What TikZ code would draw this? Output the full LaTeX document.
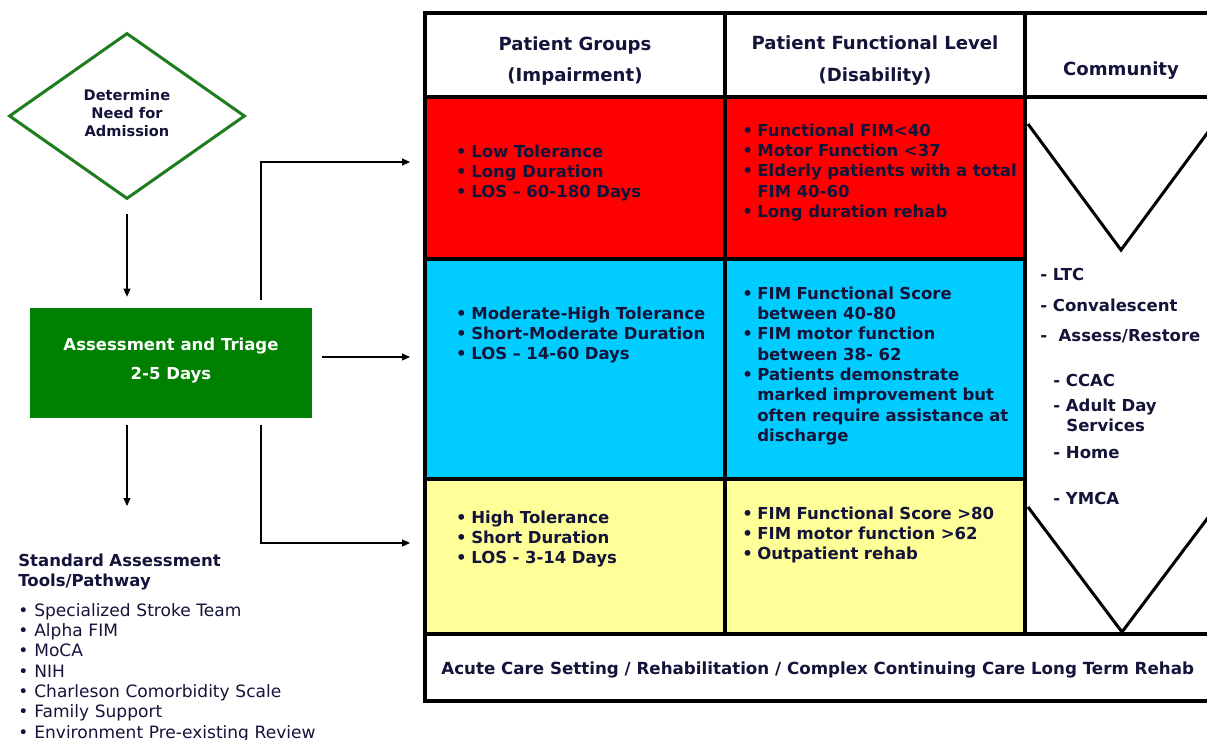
\documentclass[tikz,border=0pt]{standalone}
\usepackage{fontspec}
\setmainfont{DejaVu Sans}
\usetikzlibrary{positioning,arrows.meta,shapes.geometric,calc}
\definecolor{stink}{HTML}{14143A}
\definecolor{stgreen}{HTML}{008000}
\definecolor{stdiamond}{HTML}{1E7E1E}
\definecolor{stred}{HTML}{FF0000}
\definecolor{stblue}{HTML}{00CCFF}
\definecolor{styellow}{HTML}{FFFF99}
% bullet and hanging continuation for the cell lists
\newcommand{\stitem}{\makebox[0.26cm][l]{\hspace{-1.2pt}\textbullet}}
\newcommand{\stcont}{\hspace*{0.26cm}}
\newcommand{\stdot}{\makebox[0.32cm][l]{\textbullet}}
\tikzset{
  stgrid/.style={draw=black, line width=0.085cm},
  stvee/.style={draw=black, line width=0.06cm},
  stflow/.style={-{Triangle[length=1.6mm,width=1.4mm]}, draw=black, line width=0.6pt},
  stcell/.style={text=stink, font=\fontsize{9.4}{11.6}\selectfont\bfseries, anchor=base west,
                 align=left, inner sep=0pt, text width=5.6cm},
  sthead/.style={text=stink, font=\fontsize{10.3}{18.2}\selectfont\bfseries, align=center, inner sep=0pt},
  stcomm/.style={text=stink, font=\fontsize{9.4}{11.6}\selectfont\bfseries, anchor=base west, inner sep=0pt},
}

\begin{document}
\begin{tikzpicture}[x=0.02cm, y=-0.02cm]
    \useasboundingbox (0,0) rectangle (1207,740);
    % coloured bands of the table
    \fill[stred] (425,97) rectangle (1025,259);
    \fill[stblue] (425,259) rectangle (1025,479);
    \fill[styellow] (425,479) rectangle (1025,634);
    % table rules
    \draw[stgrid] (425,13) rectangle (1215,701);
    \draw[stgrid] (425,97) -- (1215,97);
    \draw[stgrid] (425,259) -- (1025,259);
    \draw[stgrid] (425,479) -- (1025,479);
    \draw[stgrid] (425,634) -- (1215,634);
    \draw[stgrid] (725,13) -- (725,634);
    \draw[stgrid] (1025,13) -- (1025,634);
    % community funnels
    \draw[stvee] (1028,124) -- (1121,250) -- (1214,124);
    \draw[stvee] (1028,507) -- (1122,632) -- (1216,507);

    \node[sthead] (hdgroups) at (575,61) {Patient Groups\\ (Impairment)};
    \node[sthead] (hdlevel) at (875,61) {Patient Functional Level\\ (Disability)};
    \node[sthead] (hdcomm) at (1121,71) {Community};

    \node[stcell] (redgroup) at (458,157) {\stitem Low Tolerance\\ \stitem Long Duration\\ \stitem LOS -- 60-180 Days};
    \node[stcell] (bluegroup) at (458,319) {\stitem Moderate-High Tolerance\\ \stitem Short-Moderate Duration\\ \stitem LOS -- 14-60 Days};
    \node[stcell] (yellowgroup) at (458,523) {\stitem High Tolerance\\ \stitem Short Duration\\ \stitem LOS - 3-14 Days};

    \node[stcell] (redlevel) at (744,136) {\stitem Functional FIM<40\\ \stitem Motor Function <37\\ \stitem Elderly patients with a total\\ \stcont FIM 40-60\\ \stitem Long duration rehab};
    \node[stcell] (bluelevel) at (744,299) {\stitem FIM Functional Score\\ \stcont between 40-80\\ \stitem FIM motor function\\ \stcont between 38- 62\\ \stitem Patients demonstrate\\ \stcont marked improvement but\\ \stcont often require assistance at\\ \stcont discharge};
    \node[stcell] (yellowlevel) at (744,519) {\stitem FIM Functional Score >80\\ \stitem FIM motor function >62\\ \stitem Outpatient rehab};

    \node[stcomm] (ltc) at (1040,280) {- LTC};
    \node[stcomm] (conval) at (1040,311) {- Convalescent};
    \node[stcomm] (restore) at (1040,341) {-~~Assess/Restore};
    \node[stcomm] (ccac) at (1053,386) {- CCAC};
    \node[stcomm] (dayserv) at (1053,411) {- Adult Day};
    \node[stcomm] (services) at (1066,431) {Services};
    \node[stcomm] (home) at (1053,458) {- Home};
    \node[stcomm] (ymca) at (1053,504) {- YMCA};

    \node[stcomm, font=\fontsize{9.5}{11.6}\selectfont\bfseries] (setting) at (441,674)
          {Acute Care Setting / Rehabilitation / Complex Continuing Care Long Term Rehab};

    % admission flow on the left
    \node[diamond, draw=stdiamond, line width=0.06cm, minimum width=4.72cm, minimum height=3.32cm,
          inner sep=0pt] (admit) at (127,116) {};
    \node[align=center, text=stink, inner sep=0pt, font=\fontsize{8.3}{10.2}\selectfont\bfseries]
          (admitlabel) at ([yshift=0.06cm]admit.center) {Determine\\ Need for\\ Admission};
    \node[fill=stgreen, minimum width=5.64cm, minimum height=2.2cm] (triage) at (171,363) {};
    \node[align=center, text=white, inner sep=0pt, font=\fontsize{9.4}{17}\selectfont\bfseries]
          (triagelabel) at ([yshift=0.05cm]triage.center) {Assessment and Triage\\ 2-5 Days};
    \node[stcomm, text width=5cm, align=left] (toolshead) at (18,566) {Standard Assessment\\ Tools/Pathway};
    \node[text=stink, font=\fontsize{9.7}{11.6}\selectfont, anchor=base west, align=left, inner sep=0pt,
          text width=7cm] (toollist) at (18,616)
          {\stdot Specialized Stroke Team\\ \stdot Alpha FIM\\ \stdot MoCA\\ \stdot NIH\\
           \stdot Charleson Comorbidity Scale\\ \stdot Family Support\\ \stdot Environment Pre-existing Review};

    \coordinate (redin) at (410,162);
    \coordinate (bluein) at (410,357);
    \coordinate (yellowin) at (410,543);
    \coordinate (upfork) at (261,300);
    \coordinate (downfork) at (261,425);
    \coordinate (toolsin) at (127,506);
    \draw[stflow, shorten <=0.28cm, shorten >=0.22cm] (admit.south) -- (admit.south |- triage.north);
    \draw[stflow, shorten <=0.14cm] (admit.south |- triage.south) -- (toolsin);
    \draw[stflow, shorten <=0.2cm] (triage.east |- bluein) -- (bluein);
    \draw[stflow] (upfork) |- (redin);
    \draw[stflow] (downfork) |- (yellowin);
\end{tikzpicture}
\end{document}
